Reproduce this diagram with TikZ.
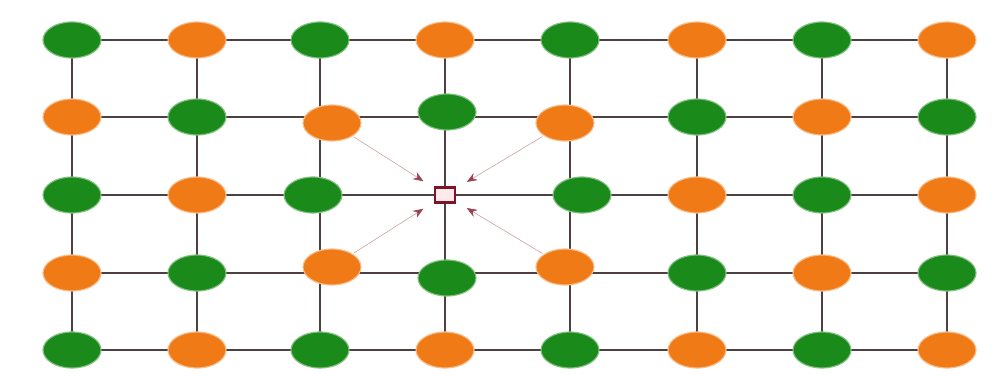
\documentclass[tikz,border=0pt]{standalone}
\usepackage{xcolor}
\usepackage{tikz}
\usetikzlibrary{arrows.meta,shapes.geometric}
\definecolor{leafgreen}{RGB}{26,138,26}
\definecolor{leaforange}{RGB}{240,122,22}
\definecolor{gridline}{RGB}{78,64,64}
\definecolor{sqred}{RGB}{130,18,40}
\tikzset{
  gnode/.style  = {ellipse, fill=leafgreen, draw=leafgreen!55, line width=0.8pt,
                   minimum width=1.45cm, minimum height=0.9cm, inner sep=0pt},
  onode/.style  = {ellipse, fill=leaforange, draw=leaforange!50, line width=0.8pt,
                   minimum width=1.45cm, minimum height=0.9cm, inner sep=0pt},
  sqnode/.style = {rectangle, draw=sqred, fill=pink!35, line width=2pt,
                   minimum width=0.5cm, minimum height=0.36cm, inner sep=0pt},
  gridl/.style  = {gridline, line width=1.3pt},
  pull/.style   = {-{Stealth[length=2.6mm,width=2mm,color=sqred!80]}, thin,
                   color=gray!70!red!60, shorten >=3mm, shorten <=1pt},
}

\begin{document}
\begin{tikzpicture}[x=0.025cm,y=-0.025cm]
  \useasboundingbox (0,0) rectangle (994,380);
  % lattice points
  \foreach \x [count=\c] in {72,197,320,445,570,697,822,947}
    \foreach \y [count=\r] in {40,117,195,273,350}
      \coordinate (g\r\c) at (\x,\y);
  \foreach \r in {1,...,5}
    \draw[gridl] (g\r1) -- (g\r8);
  \foreach \c in {1,...,8}
    \draw[gridl] (g1\c) -- (g5\c);
  % regular sites
  \foreach \r in {1,...,5}
    \foreach \c in {1,...,8}{
      \pgfmathtruncatemacro\ctr{(\r>1)&&(\r<5)&&(\c>2)&&(\c<6)}
      \pgfmathtruncatemacro\odd{mod(\r+\c,2)}
      \ifnum\ctr=0
        \ifnum\odd=0 \node[gnode] (n\r\c) at (g\r\c) {};
        \else \node[onode] (n\r\c) at (g\r\c) {}; \fi
      \fi
    }
  % displaced sites round the vacancy
  \node[onode]  (n23) at (332,123) {};
  \node[gnode]  (n24) at (447,112) {};
  \node[onode]  (n25) at (565,123) {};
  \node[gnode]  (n33) at (313,195) {};
  \node[sqnode] (n34) at (g34) {};
  \node[gnode]  (n35) at (582,195) {};
  \node[onode]  (n43) at (332,267) {};
  \node[gnode]  (n44) at (447,278) {};
  \node[onode]  (n45) at (565,267) {};
  \draw[pull] (n23) -- (n34);
  \draw[pull] (n25) -- (n34);
  \draw[pull] (n43) -- (n34);
  \draw[pull] (n45) -- (n34);
\end{tikzpicture}
\end{document}
